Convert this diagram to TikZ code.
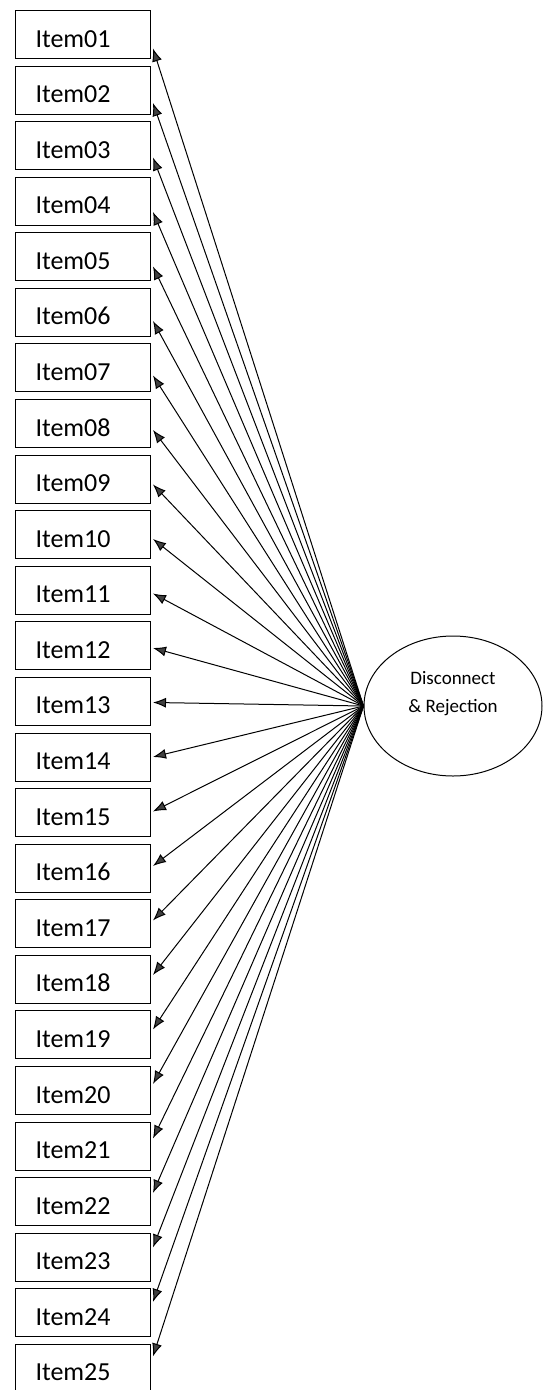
\documentclass[tikz,border=0pt]{standalone}
\usepackage{fontspec}
\setmainfont{Carlito}
\usetikzlibrary{shapes.geometric,arrows.meta,calc}
\begin{document}
\begin{tikzpicture}[x=1pt,y=-1pt,
  itembox/.style={draw, line width=1pt, minimum width=135pt, minimum height=48pt,
    inner xsep=20pt, inner ysep=0pt, text width=95pt, text height=25pt, text depth=0pt,
    align=left, anchor=north west, font=\fontsize{26}{30}\selectfont},
  factor/.style={draw, line width=1pt, ellipse, minimum width=178pt, minimum height=140pt,
    inner sep=0pt, align=center, font=\fontsize{19}{28}\selectfont},
  load/.style={line width=1pt, -{Latex[length=13pt,width=10pt,fill=gray!50!black]}}]
\useasboundingbox (0,0) rectangle (542,1390);
\fill[white] (0,0) rectangle (542,1390);
% latent factor
\node[factor] (f) at (453,706) {Disconnect\\\& Rejection\\\mbox{}};
% indicator boxes
\foreach \n in {1,...,25}{
  \pgfmathsetmacro{\top}{10+(\n-1)*55.58}
  \node[itembox] (i\n) at (15,\top) {Item\ifnum\n<10 0\fi\n};
}
% loadings
\foreach \n in {1,...,25}{
  \pgfmathsetmacro{\off}{14-(\n-1)*1.083}
  \draw[load] (f.west) -- ($(i\n.east)+(2,\off)$);
}
\end{tikzpicture}
\end{document}
